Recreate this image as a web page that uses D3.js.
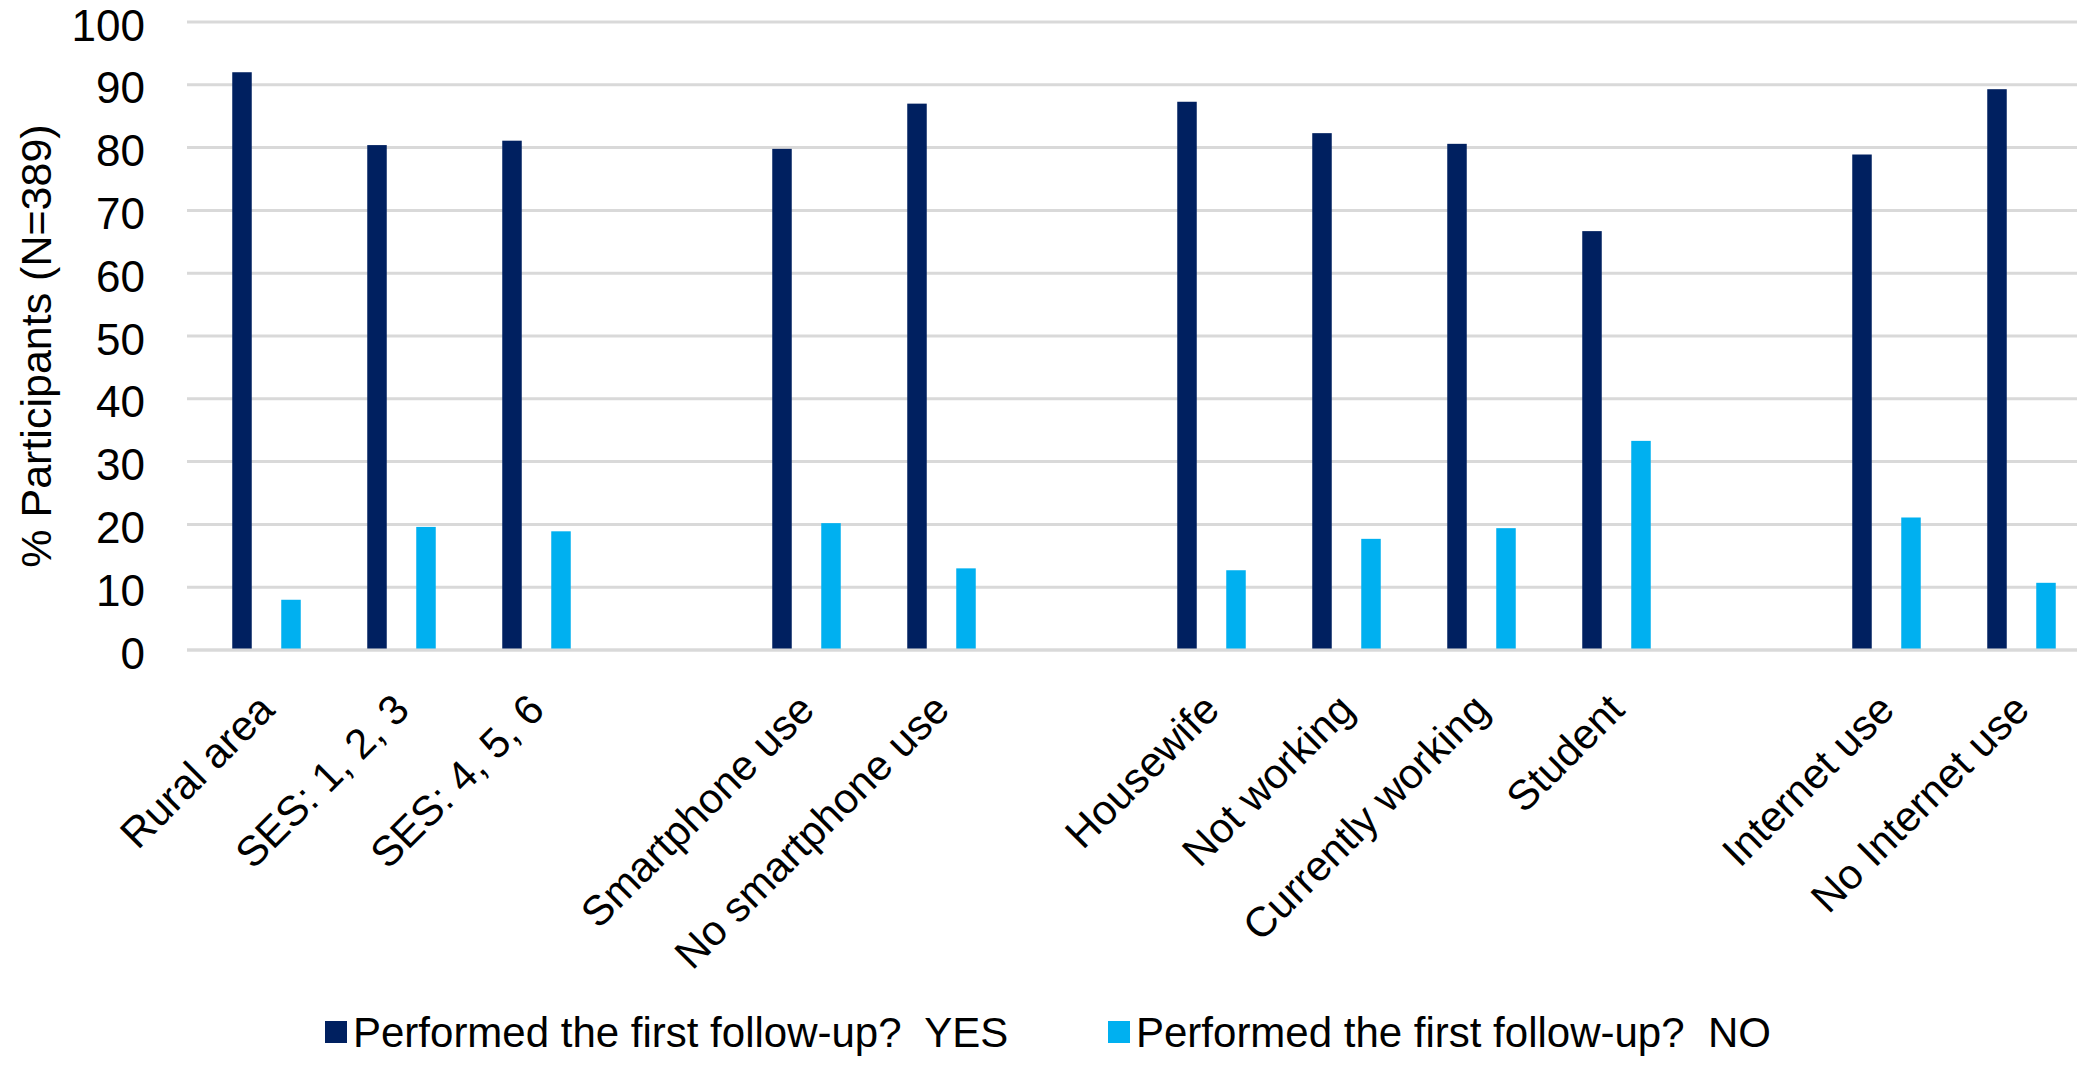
<!DOCTYPE html>
<html>
<head>
<meta charset="utf-8">
<script src="https://cdn.jsdelivr.net/npm/d3@7"></script>
<style>
  html, body { margin: 0; padding: 0; background: #fff; }
  svg { display: block; }
  text { font-family: "Liberation Sans", Arial, sans-serif; fill: #000; white-space: pre; }
</style>
</head>
<body>
<svg id="chart" width="2091" height="1065"></svg>
<script>
// ---- data ----
const categories = ["Rural area", "SES: 1, 2, 3", "SES: 4, 5, 6", "", "Smartphone use", "No smartphone use", "",
                    "Housewife", "Not working", "Currently working", "Student", "", "Internet use", "No Internet use"];
const yesValues = [92.0, 80.4, 81.1, null, 79.8, 87.0, null, 87.3, 82.3, 80.6, 66.7, null, 78.9, 89.3];
const noValues  = [8.0, 19.6, 18.9, null, 20.2, 13.0, null, 12.7, 17.7, 19.4, 33.3, null, 21.1, 10.7];
const seriesNames = ["Performed the first follow-up?  YES", "Performed the first follow-up?  NO"];
const yTicks = [0, 10, 20, 30, 40, 50, 60, 70, 80, 90, 100];
const yTitle = "% Participants (N=389)";

// ---- layout ----
const gridX0 = 187, gridX1 = 2077;
const plotTop = 22, plotBottom = 650;
const colors = ["#002060", "#00B0F0"];
const fontSize = 42;

const svg = d3.select("#chart");

const x = d3.scaleBand().domain(d3.range(categories.length)).range([199, 2089]).padding(0);
const xSub = d3.scalePoint().domain([0, 1]).range([-24.5, 24.5]);
const barW = 19.5;
const y = d3.scaleLinear().domain([0, 100]).range([plotBottom, plotTop]);

// gridlines
svg.append("g").selectAll("line").data(yTicks).join("line")
  .attr("x1", gridX0).attr("x2", gridX1)
  .attr("y1", d => y(d)).attr("y2", d => y(d))
  .attr("stroke", "#d9d9d9").attr("stroke-width", 3);

// y axis labels
const yAxis = d3.axisLeft(y).tickValues(yTicks).tickSize(0).tickPadding(0).tickFormat(d3.format("d"));
const gy = svg.append("g").attr("transform", `translate(145,0)`).call(yAxis);
gy.select(".domain").remove();
gy.selectAll("text").attr("font-size", 44).attr("fill", "#000")
  .style("font-family", '"Liberation Sans", Arial, sans-serif').attr("dy", "0.41em");

// y title
svg.append("text")
  .attr("transform", `translate(36,${(plotTop + plotBottom) / 2 + 10}) rotate(-90)`)
  .attr("text-anchor", "middle").attr("dominant-baseline", "central")
  .attr("font-size", 43).text(yTitle);

// bars
const series = [yesValues, noValues];
series.forEach((vals, si) => {
  svg.append("g").selectAll("rect")
    .data(vals.map((v, i) => ({ v, i })).filter(d => d.v != null))
    .join("rect")
    .attr("x", d => x(d.i) + x.bandwidth() / 2 + xSub(si) - barW / 2)
    .attr("width", barW)
    .attr("y", d => y(d.v))
    .attr("height", d => y(0) - y(d.v))
    .attr("fill", colors[si]);
});

// x axis line on top
svg.append("line").attr("x1", gridX0).attr("x2", gridX1)
  .attr("y1", y(0)).attr("y2", y(0)).attr("stroke", "#d9d9d9").attr("stroke-width", 3);

// x labels
const xAxis = d3.axisBottom(x).tickSize(0).tickFormat(i => categories[i]);
const gx = svg.append("g").attr("transform", `translate(0,${plotBottom})`).call(xAxis);
gx.select(".domain").remove();
gx.selectAll(".tick text")
  .attr("font-size", fontSize).attr("fill", "#000")
  .style("font-family", '"Liberation Sans", Arial, sans-serif')
  .attr("text-anchor", "end")
  .attr("x", 0).attr("y", 0).attr("dy", 0)
  .attr("transform", "translate(10,62) rotate(-45)");

// legend
const legendY = 1032;
const legend = svg.append("g");
const items = [{ x: 325 }, { x: 1108 }];
items.forEach((it, i) => {
  legend.append("rect").attr("x", it.x).attr("y", legendY - 11).attr("width", 22).attr("height", 22).attr("fill", colors[i]);
  legend.append("text").attr("x", it.x + 28).attr("y", legendY).attr("dy", "0.35em")
    .attr("font-size", fontSize).text(seriesNames[i]);
});
</script>
</body>
</html>
